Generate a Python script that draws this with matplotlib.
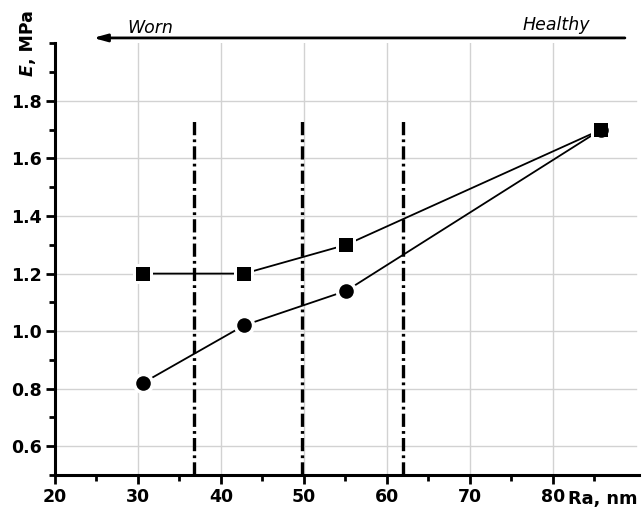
import matplotlib
matplotlib.use("Agg")
import matplotlib.pyplot as plt
from matplotlib.ticker import FixedLocator, MultipleLocator

# ---- data ----
ra_nm = [30.6, 42.8, 55.1, 85.8]
e_square = [1.20, 1.20, 1.30, 1.70]
e_circle = [0.82, 1.02, 1.14, 1.70]
boundaries = [36.7, 49.8, 62.0]
boundary_top = 1.74
x_ticks = [20, 30, 40, 50, 60, 70, 80]
x_minor = [25, 35, 45, 55, 65, 75, 85]
y_ticks = [0.6, 0.8, 1.0, 1.2, 1.4, 1.6, 1.8]

plt.rcParams['font.family'] = ['DejaVu Sans']
plt.rcParams['lines.scale_dashes'] = False

fig = plt.figure(figsize=(6.43, 5.09), dpi=100)
ax = fig.add_axes([55/643, 34/509, 584/643, 431.6/509])

ax.set_xlim(20, 90.4)
ax.set_ylim(0.5, 2.0)

ax.set_xticks(x_ticks)
ax.set_yticks(y_ticks)
ax.xaxis.set_minor_locator(FixedLocator(x_minor))
ax.yaxis.set_minor_locator(MultipleLocator(0.1))

# grid
for xv in x_ticks[1:]:
    ax.axvline(xv, color='#d2d2d2', lw=1.0, zorder=0)
for yv in y_ticks:
    ax.axhline(yv, xmax=(90 - 20) / 70.4, color='#d2d2d2', lw=1.0, zorder=0)

# boundaries (dash-dot)
for b in boundaries:
    ax.plot([b, b], [0.5, boundary_top], color='black', lw=2.4,
            dashes=(9.5, 3.0, 2.0, 3.0), zorder=2, dash_capstyle='butt')

# series
for vals, mk, ms in [(e_square, 's', 9.5), (e_circle, 'o', 10.5)]:
    ax.plot(ra_nm, vals, color='black', lw=1.3, zorder=3)
    ax.plot(ra_nm, vals, ls='none', marker=mk, ms=ms + 5, color='white',
            markeredgewidth=0, zorder=4)
for vals, mk, ms in [(e_square, 's', 9.5), (e_circle, 'o', 10.5)]:
    ax.plot(ra_nm, vals, ls='none', marker=mk, ms=ms, color='black',
            markeredgewidth=0, zorder=5)

# spines
for s in ['top', 'right']:
    ax.spines[s].set_visible(False)
for s in ['left', 'bottom']:
    ax.spines[s].set_linewidth(2.2)
ax.tick_params(which='major', direction='out', length=6.5, width=2.0,
               labelsize=12.5, pad=3)
ax.tick_params(which='minor', direction='out', length=4, width=2.0)
ax.set_xticklabels([str(v) for v in x_ticks], fontweight='bold')
ax.set_yticklabels([f"{v:.1f}" for v in y_ticks], fontweight='bold')

# axis titles
fig.text(568/643, 1 - 504/509, 'Ra, nm', fontsize=12.8, fontweight='bold',
         ha='left', va='baseline')
t1 = fig.text(28/643, 1 - 76/509, 'E', fontsize=12.5, fontweight='bold',
              style='italic', rotation=90, ha='center', va='bottom')
ax.annotate(', MPa', xy=(0.5, 1.0), xycoords=t1, fontsize=12.5,
            fontweight='bold', rotation=90, ha='center', va='bottom')

# arrow and labels
ax.annotate('', xy=(24.6, 2.019), xytext=(88.7, 2.019), xycoords='data',
            annotation_clip=False,
            arrowprops=dict(arrowstyle='-|>,head_length=0.8,head_width=0.22',
                            color='black', lw=2.0, shrinkA=0, shrinkB=0))
ax.text(28.7, 2.036, 'Worn', fontsize=12.5, style='italic', ha='left',
        va='baseline', clip_on=False)
ax.text(76.3, 2.047, 'Healthy', fontsize=12.5, style='italic', ha='left',
        va='baseline', clip_on=False)

fig.savefig('out.png', dpi=100)
